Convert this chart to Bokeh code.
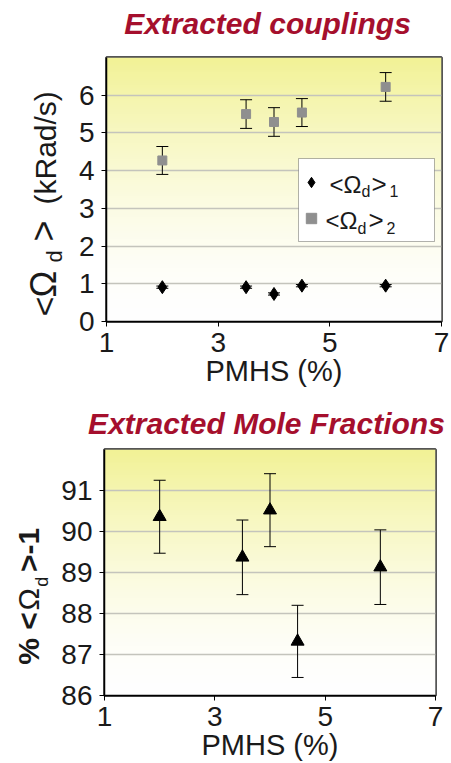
import numpy as np
from bokeh.plotting import figure
from bokeh.models import (ColumnDataSource, Whisker, TeeHead, FixedTicker, Label,
                          Range1d, Legend, LegendItem, BoxAnnotation)
from bokeh.layouts import column, row
from bokeh.embed import file_html
from bokeh.resources import INLINE

# ---------------- data ----------------
pmhs = [2.0, 3.5, 4.0, 4.5, 6.0]
omega1 = [0.91, 0.91, 0.73, 0.95, 0.95]
omega1_err = [0.03, 0.03, 0.03, 0.03, 0.03]
omega2 = [4.27, 5.50, 5.29, 5.54, 6.22]
omega2_err = [0.37, 0.38, 0.38, 0.37, 0.38]
mole_frac = [90.36, 89.37, 90.52, 87.32, 89.13]
mole_frac_err = [0.89, 0.91, 0.89, 0.88, 0.91]

x_ticks = [1, 3, 5, 7]
y_ticks_top = [0, 1, 2, 3, 4, 5, 6]
y_ticks_bottom = [86, 87, 88, 89, 90, 91]

FONT = "Liberation Sans"
TITLE_COLOR = "#A50F2D"
TEXT_COLOR = "#1a1a1a"
PAGE_W = 451
FRAME_LEFT = 104     # page x of the plot frames' left edge
BASE_SHIFT = 0.33    # measured offset of rendered baseline, in em


def gradient_image(n=128):
    t = np.linspace(0.0, 1.0, n)          # 0 bottom, 1 top
    w = t ** 1.6
    top = np.array([242.0, 242.0, 150.0])
    rgb = 255.0 + (top - 255.0) * w[:, None]
    img = np.zeros((n, 2), dtype=np.uint32)
    view = img.view(dtype=np.uint8).reshape((n, 2, 4))
    for c in range(3):
        view[:, :, c] = rgb[:, c:c + 1].astype(np.uint8)
    view[:, :, 3] = 255
    return img


def blank_fig(width, height, top_b=0, bot_b=None):
    """Axis-less figure whose ranges are page pixels (y = height - page_y)."""
    if bot_b is None:
        bot_b = height
    s = figure(width=width, height=height, output_backend="svg", toolbar_location=None,
               title=None,
               x_range=Range1d(0, width), y_range=Range1d(height - bot_b, height - top_b),
               x_axis_type=None, y_axis_type=None,
               min_border_left=0, min_border_right=0,
               min_border_top=top_b, min_border_bottom=height - bot_b)
    s.outline_line_color = None
    s.grid.grid_line_color = None
    s.background_fill_color = "white"
    s.border_fill_color = "white"
    return s


def put_text(s, height, X, Y, text, size, style="normal", color=TEXT_COLOR,
             angle=0.0, align="left"):
    if angle:
        X = X - BASE_SHIFT * size
    else:
        Y = Y - BASE_SHIFT * size
    s.add_layout(Label(x=X, y=height - Y, text=text, text_font=FONT,
                       text_font_size=f"{size}px", text_font_style=style,
                       text_color=color, angle=angle, text_align=align,
                       text_baseline="alphabetic"))


def title_fig(height, X, Y, text):
    s = blank_fig(PAGE_W, height)
    put_text(s, height, X, Y, text, 30, style="bold italic", color=TITLE_COLOR,
             align="center")
    return s


def label_strip(width, height, top_b, bot_b, pieces):
    """Narrow figure holding the rotated y-axis title (with subscript)."""
    s = blank_fig(width, height, top_b, bot_b)
    for X, Y, text, size, style in pieces:
        put_text(s, height, X, Y, text, size, style=style, angle=np.pi / 2)
    return s


def style_fig(p, yticks):
    p.outline_line_color = "#555555"
    p.outline_line_width = 3
    p.background_fill_color = "white"
    p.border_fill_color = "white"
    p.xgrid.grid_line_color = None
    p.ygrid.grid_line_color = "#c4c4bc"
    p.ygrid.grid_line_width = 1.5
    p.xaxis.ticker = FixedTicker(ticks=x_ticks)
    p.yaxis.ticker = FixedTicker(ticks=yticks)
    for ax in (p.xaxis, p.yaxis):
        ax.axis_line_color = "black"
        ax.axis_line_width = 1.5
        ax.major_tick_line_color = "black"
        ax.major_tick_out = 5
        ax.major_tick_in = 0
        ax.minor_tick_line_color = None
        ax.major_label_text_font = FONT
        ax.major_label_text_font_size = "28px"
        ax.major_label_text_color = TEXT_COLOR
    p.xaxis.major_label_standoff = 6
    p.yaxis.major_label_standoff = 7
    p.xaxis.axis_label = "PMHS (%)"
    p.xaxis.axis_label_text_font = FONT
    p.xaxis.axis_label_text_font_size = "29px"
    p.xaxis.axis_label_text_font_style = "normal"
    p.xaxis.axis_label_text_color = TEXT_COLOR
    p.xaxis.axis_label_standoff = 0


def add_label(p, X, Y, B, text, size):
    Y = Y - BASE_SHIFT * size
    p.add_layout(Label(x=X - FRAME_LEFT, y=B - Y, x_units="screen", y_units="screen",
                       text=text, text_font=FONT, text_font_size=f"{size}px",
                       text_color=TEXT_COLOR, level="overlay",
                       text_align="left", text_baseline="alphabetic"))


# ---------------- top chart (page y 0..395) ----------------
TH1 = 45                               # title strip height
H1 = 395 - TH1
T1, B1 = 57 - TH1, 321 - TH1           # frame top / bottom inside the chart figure
W1 = 75                                # y-title strip width
top_title = title_fig(TH1, 267, 33, "Extracted couplings")

top = figure(width=PAGE_W - W1, height=H1, output_backend="svg", toolbar_location=None,
             title=None, x_range=Range1d(1, 7), y_range=Range1d(0, 7),
             min_border_left=FRAME_LEFT - W1, min_border_right=10,
             min_border_top=T1, min_border_bottom=H1 - B1)
style_fig(top, y_ticks_top)

top.image_rgba(image=[gradient_image()], x=top.x_range.start, y=top.y_range.start,
               dw=top.x_range.end - top.x_range.start,
               dh=top.y_range.end - top.y_range.start, level="image")

src1 = ColumnDataSource(dict(
    x=pmhs, y=omega1,
    lo=[v - e for v, e in zip(omega1, omega1_err)],
    hi=[v + e for v, e in zip(omega1, omega1_err)]))
src2 = ColumnDataSource(dict(
    x=pmhs, y=omega2,
    lo=[v - e for v, e in zip(omega2, omega2_err)],
    hi=[v + e for v, e in zip(omega2, omega2_err)]))

for src in (src1, src2):
    top.add_layout(Whisker(base="x", lower="lo", upper="hi", source=src,
                           line_color="black", line_width=1, level="underlay",
                           upper_head=TeeHead(size=12, line_color="black", line_width=1),
                           lower_head=TeeHead(size=12, line_color="black", line_width=1)))

r1 = top.scatter("x", "y", source=src1, marker="diamond", size=13,
                 fill_color="black", line_color="black")
r2 = top.scatter("x", "y", source=src2, marker="square", size=9,
                 fill_color="#8f8f8f", line_color="#8f8f8f")

# legend box (page px 296..432 x 158..241)
top.add_layout(BoxAnnotation(left=296 - FRAME_LEFT, right=432 - FRAME_LEFT,
                             bottom=B1 - (241 - TH1), top=B1 - (158 - TH1),
                             left_units="screen", right_units="screen",
                             bottom_units="screen", top_units="screen",
                             fill_color="white", fill_alpha=1.0,
                             line_color="black", line_width=1, level="underlay"))

# legend texts with subscripts (page pixels, baselines)
for X, Y, txt, sz in [(327, 192, "<Ω", 24), (359, 196, "d", 16), (369, 192, ">", 26),
                      (387, 196, "1", 16), (323, 228, "<Ω", 24), (355, 233, "d", 16),
                      (366, 228, ">", 26), (384, 233, "2", 16)]:
    add_label(top, X, Y - TH1, B1, txt, sz)

# transparent legend: only its marker swatches show
legend = Legend(items=[LegendItem(label=" ", renderers=[r1]),
                       LegendItem(label=" ", renderers=[r2])],
                location=(296 - FRAME_LEFT, B1 - (241 - TH1) + 7), padding=6, spacing=4,
                glyph_width=26, glyph_height=32, label_height=32,
                label_width=98, label_standoff=0,
                border_line_color=None, background_fill_alpha=0.0)
top.add_layout(legend)

ylab_top = label_strip(W1, H1, T1, B1, [
    (55, 316 - TH1, "<", 34, "normal"),
    (55, 297 - TH1, "Ω", 36, "normal"),
    (61, 262 - TH1, "d", 22, "normal"),
    (55, 241 - TH1, ">", 36, "normal"),
    (55, 204 - TH1, "(kRad/s)", 30, "normal"),
])

# ---------------- bottom chart (page y 395..763) ----------------
TH2 = 50
H2 = 368 - TH2
OFF2 = 395 + TH2
T2, B2 = 449 - OFF2, 698 - OFF2
W2 = 57
bot_title = title_fig(TH2, 266, 433 - 395, "Extracted Mole Fractions")

bot = figure(width=PAGE_W - W2, height=H2, output_backend="svg", toolbar_location=None,
             title=None, x_range=Range1d(1, 7), y_range=Range1d(86, 92),
             min_border_left=FRAME_LEFT - W2, min_border_right=16,
             min_border_top=T2, min_border_bottom=H2 - B2)
style_fig(bot, y_ticks_bottom)

bot.image_rgba(image=[gradient_image()], x=bot.x_range.start, y=bot.y_range.start,
               dw=bot.x_range.end - bot.x_range.start,
               dh=bot.y_range.end - bot.y_range.start, level="image")

src3 = ColumnDataSource(dict(
    x=pmhs, y=mole_frac,
    lo=[v - e for v, e in zip(mole_frac, mole_frac_err)],
    hi=[v + e for v, e in zip(mole_frac, mole_frac_err)]))
bot.add_layout(Whisker(base="x", lower="lo", upper="hi", source=src3,
                       line_color="black", line_width=1, level="underlay",
                       upper_head=TeeHead(size=12, line_color="black", line_width=1),
                       lower_head=TeeHead(size=12, line_color="black", line_width=1)))
bot.scatter("x", "y", source=src3, marker="triangle", size=13,
            fill_color="black", line_color="black")

ylab_bot = label_strip(W2, H2, T2, B2, [
    (38, 667 - OFF2, "% <", 30, "bold"),
    (38, 612 - OFF2, "Ω", 30, "normal"),
    (47, 588 - OFF2, "d", 18, "normal"),
    (38, 573 - OFF2, ">-1", 30, "bold"),
])

layout = column(top_title, row(ylab_top, top, spacing=0),
                bot_title, row(ylab_bot, bot, spacing=0), spacing=0)
open("out.html", "w").write(file_html(layout, INLINE))
